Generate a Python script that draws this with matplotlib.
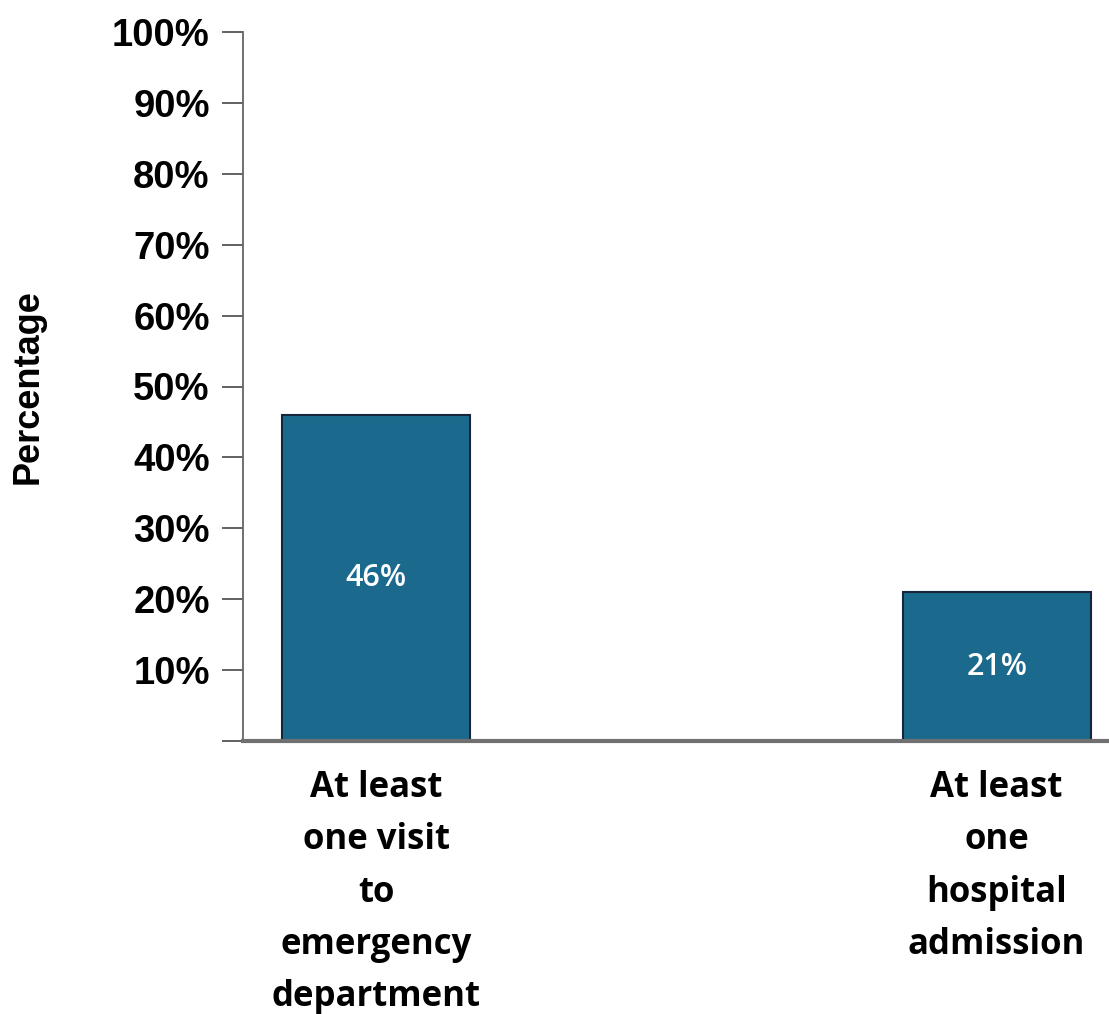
import matplotlib
matplotlib.use("Agg")
import matplotlib.pyplot as plt

categories = ["At least\none visit\nto\nemergency\ndepartment", "At least\none\nhospital\nadmission"]
values = [46, 21]
yticks = [0, 10, 20, 30, 40, 50, 60, 70, 80, 90, 100]
yticklabels = ["", "10%", "20%", "30%", "40%", "50%", "60%", "70%", "80%", "90%", "100%"]

fig = plt.figure(figsize=(11.09, 10.14), dpi=100)
ax = fig.add_axes([243/1109, 1 - 741/1014, 1 - 243/1109, (741 - 32)/1014])

x = [0, 1]
bars = ax.bar(x, values, width=0.303, color="#1b6a8e", edgecolor="#15263a", linewidth=1.5, zorder=2)
for xi, v in zip(x, values):
    ax.text(xi, v / 2, f"{v}%", ha="center", va="center", color="white",
            fontsize=22, fontweight="semibold", family="Open Sans", zorder=3)

ax.set_xlim(-0.2143, 1.181)
ax.set_ylim(0, 100)
ax.set_yticks(yticks)
ax.set_yticklabels(yticklabels, fontsize=27.5, fontweight="bold", family="Liberation Sans")
ax.tick_params(axis="y", length=15, width=1.3, color="#555555", pad=9)
ax.set_xticks(x)
ax.set_xticklabels(categories, fontsize=25, fontweight="bold", family="Open Sans", linespacing=1.6)
ax.tick_params(axis="x", length=0, pad=21)

ax.set_ylabel("Percentage", fontsize=26, fontweight="bold", family="Liberation Sans")
ax.yaxis.set_label_coords(-0.228, 0.5)

for s in ["top", "right"]:
    ax.spines[s].set_visible(False)
ax.spines["left"].set_color("#666666")
ax.spines["left"].set_linewidth(1.3)
ax.spines["bottom"].set_color("#707070")
ax.spines["bottom"].set_linewidth(3)

fig.savefig("out.png", dpi=100)
